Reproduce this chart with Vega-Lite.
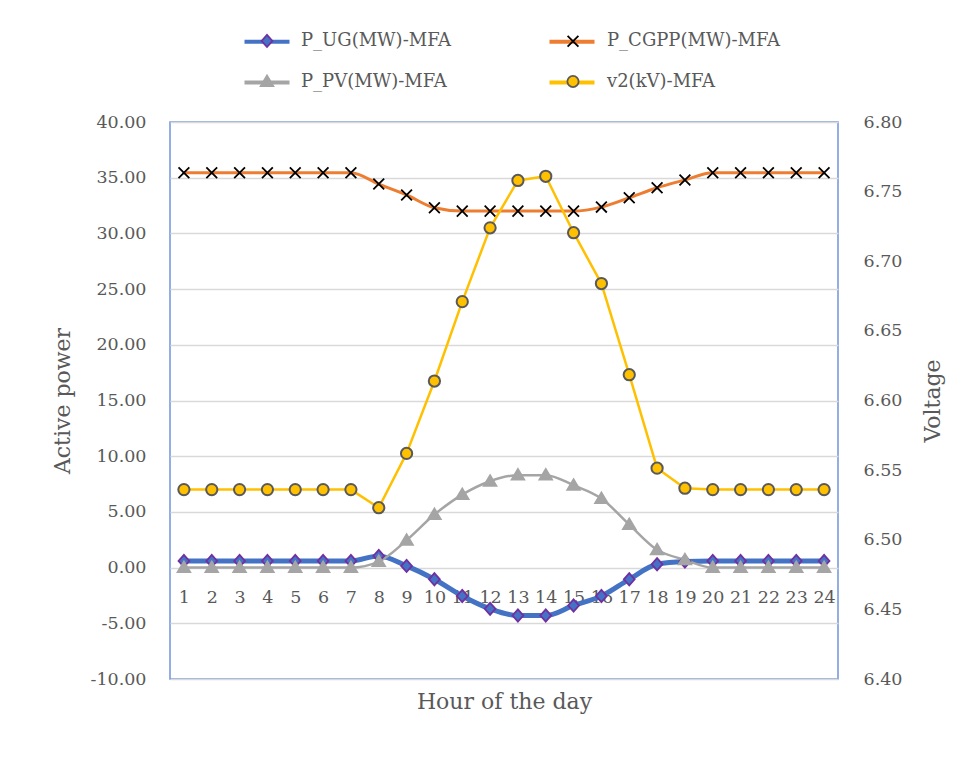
{
  "$schema": "https://vega.github.io/schema/vega-lite/v6.json",
  "width": 668,
  "height": 557,
  "autosize": {"type": "none"},
  "padding": {"left": 170, "top": 122, "right": 116, "bottom": 81},
  "background": "white",
  "config": {
    "view": {"stroke": "#7094DB", "strokeWidth": 1.5},
    "font": "DejaVu Serif",
    "axis": {
      "labelFont": "DejaVu Serif",
      "labelFontSize": 17.5,
      "labelColor": "#595959",
      "titleFont": "DejaVu Serif",
      "titleFontSize": 22,
      "titleFontWeight": "normal",
      "titleColor": "#595959",
      "domain": false,
      "ticks": false
    }
  },
  "data": {
    "values": [
      {"h": 1, "s": "P_UG(MW)-MFA", "m": "UG", "v": 0.6},
      {"h": 2, "s": "P_UG(MW)-MFA", "m": "UG", "v": 0.6},
      {"h": 3, "s": "P_UG(MW)-MFA", "m": "UG", "v": 0.6},
      {"h": 4, "s": "P_UG(MW)-MFA", "m": "UG", "v": 0.6},
      {"h": 5, "s": "P_UG(MW)-MFA", "m": "UG", "v": 0.6},
      {"h": 6, "s": "P_UG(MW)-MFA", "m": "UG", "v": 0.6},
      {"h": 7, "s": "P_UG(MW)-MFA", "m": "UG", "v": 0.6},
      {"h": 8, "s": "P_UG(MW)-MFA", "m": "UG", "v": 1.05},
      {"h": 9, "s": "P_UG(MW)-MFA", "m": "UG", "v": 0.15},
      {"h": 10, "s": "P_UG(MW)-MFA", "m": "UG", "v": -1.05},
      {"h": 11, "s": "P_UG(MW)-MFA", "m": "UG", "v": -2.55},
      {"h": 12, "s": "P_UG(MW)-MFA", "m": "UG", "v": -3.7},
      {"h": 13, "s": "P_UG(MW)-MFA", "m": "UG", "v": -4.3},
      {"h": 14, "s": "P_UG(MW)-MFA", "m": "UG", "v": -4.3},
      {"h": 15, "s": "P_UG(MW)-MFA", "m": "UG", "v": -3.4},
      {"h": 16, "s": "P_UG(MW)-MFA", "m": "UG", "v": -2.55},
      {"h": 17, "s": "P_UG(MW)-MFA", "m": "UG", "v": -1.05},
      {"h": 18, "s": "P_UG(MW)-MFA", "m": "UG", "v": 0.3},
      {"h": 19, "s": "P_UG(MW)-MFA", "m": "UG", "v": 0.55},
      {"h": 20, "s": "P_UG(MW)-MFA", "m": "UG", "v": 0.6},
      {"h": 21, "s": "P_UG(MW)-MFA", "m": "UG", "v": 0.6},
      {"h": 22, "s": "P_UG(MW)-MFA", "m": "UG", "v": 0.6},
      {"h": 23, "s": "P_UG(MW)-MFA", "m": "UG", "v": 0.6},
      {"h": 24, "s": "P_UG(MW)-MFA", "m": "UG", "v": 0.6},
      {"h": 1, "s": "P_CGPP(MW)-MFA", "m": "CGPP", "v": 35.45},
      {"h": 2, "s": "P_CGPP(MW)-MFA", "m": "CGPP", "v": 35.45},
      {"h": 3, "s": "P_CGPP(MW)-MFA", "m": "CGPP", "v": 35.45},
      {"h": 4, "s": "P_CGPP(MW)-MFA", "m": "CGPP", "v": 35.45},
      {"h": 5, "s": "P_CGPP(MW)-MFA", "m": "CGPP", "v": 35.45},
      {"h": 6, "s": "P_CGPP(MW)-MFA", "m": "CGPP", "v": 35.45},
      {"h": 7, "s": "P_CGPP(MW)-MFA", "m": "CGPP", "v": 35.45},
      {"h": 8, "s": "P_CGPP(MW)-MFA", "m": "CGPP", "v": 34.43},
      {"h": 9, "s": "P_CGPP(MW)-MFA", "m": "CGPP", "v": 33.45},
      {"h": 10, "s": "P_CGPP(MW)-MFA", "m": "CGPP", "v": 32.3},
      {"h": 11, "s": "P_CGPP(MW)-MFA", "m": "CGPP", "v": 32.0},
      {"h": 12, "s": "P_CGPP(MW)-MFA", "m": "CGPP", "v": 32.0},
      {"h": 13, "s": "P_CGPP(MW)-MFA", "m": "CGPP", "v": 32.0},
      {"h": 14, "s": "P_CGPP(MW)-MFA", "m": "CGPP", "v": 32.0},
      {"h": 15, "s": "P_CGPP(MW)-MFA", "m": "CGPP", "v": 32.0},
      {"h": 16, "s": "P_CGPP(MW)-MFA", "m": "CGPP", "v": 32.36},
      {"h": 17, "s": "P_CGPP(MW)-MFA", "m": "CGPP", "v": 33.2},
      {"h": 18, "s": "P_CGPP(MW)-MFA", "m": "CGPP", "v": 34.1},
      {"h": 19, "s": "P_CGPP(MW)-MFA", "m": "CGPP", "v": 34.8},
      {"h": 20, "s": "P_CGPP(MW)-MFA", "m": "CGPP", "v": 35.45},
      {"h": 21, "s": "P_CGPP(MW)-MFA", "m": "CGPP", "v": 35.45},
      {"h": 22, "s": "P_CGPP(MW)-MFA", "m": "CGPP", "v": 35.45},
      {"h": 23, "s": "P_CGPP(MW)-MFA", "m": "CGPP", "v": 35.45},
      {"h": 24, "s": "P_CGPP(MW)-MFA", "m": "CGPP", "v": 35.45},
      {"h": 1, "s": "P_PV(MW)-MFA", "m": "PV", "v": 0},
      {"h": 2, "s": "P_PV(MW)-MFA", "m": "PV", "v": 0},
      {"h": 3, "s": "P_PV(MW)-MFA", "m": "PV", "v": 0},
      {"h": 4, "s": "P_PV(MW)-MFA", "m": "PV", "v": 0},
      {"h": 5, "s": "P_PV(MW)-MFA", "m": "PV", "v": 0},
      {"h": 6, "s": "P_PV(MW)-MFA", "m": "PV", "v": 0},
      {"h": 7, "s": "P_PV(MW)-MFA", "m": "PV", "v": 0},
      {"h": 8, "s": "P_PV(MW)-MFA", "m": "PV", "v": 0.54},
      {"h": 9, "s": "P_PV(MW)-MFA", "m": "PV", "v": 2.45},
      {"h": 10, "s": "P_PV(MW)-MFA", "m": "PV", "v": 4.76},
      {"h": 11, "s": "P_PV(MW)-MFA", "m": "PV", "v": 6.55},
      {"h": 12, "s": "P_PV(MW)-MFA", "m": "PV", "v": 7.75},
      {"h": 13, "s": "P_PV(MW)-MFA", "m": "PV", "v": 8.3},
      {"h": 14, "s": "P_PV(MW)-MFA", "m": "PV", "v": 8.3},
      {"h": 15, "s": "P_PV(MW)-MFA", "m": "PV", "v": 7.39},
      {"h": 16, "s": "P_PV(MW)-MFA", "m": "PV", "v": 6.2},
      {"h": 17, "s": "P_PV(MW)-MFA", "m": "PV", "v": 3.86},
      {"h": 18, "s": "P_PV(MW)-MFA", "m": "PV", "v": 1.6},
      {"h": 19, "s": "P_PV(MW)-MFA", "m": "PV", "v": 0.7},
      {"h": 20, "s": "P_PV(MW)-MFA", "m": "PV", "v": 0},
      {"h": 21, "s": "P_PV(MW)-MFA", "m": "PV", "v": 0},
      {"h": 22, "s": "P_PV(MW)-MFA", "m": "PV", "v": 0},
      {"h": 23, "s": "P_PV(MW)-MFA", "m": "PV", "v": 0},
      {"h": 24, "s": "P_PV(MW)-MFA", "m": "PV", "v": 0},
      {"h": 1, "s": "v2(kV)-MFA", "m": "V2", "v": 6.536},
      {"h": 2, "s": "v2(kV)-MFA", "m": "V2", "v": 6.536},
      {"h": 3, "s": "v2(kV)-MFA", "m": "V2", "v": 6.536},
      {"h": 4, "s": "v2(kV)-MFA", "m": "V2", "v": 6.536},
      {"h": 5, "s": "v2(kV)-MFA", "m": "V2", "v": 6.536},
      {"h": 6, "s": "v2(kV)-MFA", "m": "V2", "v": 6.536},
      {"h": 7, "s": "v2(kV)-MFA", "m": "V2", "v": 6.536},
      {"h": 8, "s": "v2(kV)-MFA", "m": "V2", "v": 6.523},
      {"h": 9, "s": "v2(kV)-MFA", "m": "V2", "v": 6.562},
      {"h": 10, "s": "v2(kV)-MFA", "m": "V2", "v": 6.614},
      {"h": 11, "s": "v2(kV)-MFA", "m": "V2", "v": 6.671},
      {"h": 12, "s": "v2(kV)-MFA", "m": "V2", "v": 6.724},
      {"h": 13, "s": "v2(kV)-MFA", "m": "V2", "v": 6.758},
      {"h": 14, "s": "v2(kV)-MFA", "m": "V2", "v": 6.761},
      {"h": 15, "s": "v2(kV)-MFA", "m": "V2", "v": 6.7205},
      {"h": 16, "s": "v2(kV)-MFA", "m": "V2", "v": 6.684},
      {"h": 17, "s": "v2(kV)-MFA", "m": "V2", "v": 6.6185},
      {"h": 18, "s": "v2(kV)-MFA", "m": "V2", "v": 6.5514},
      {"h": 19, "s": "v2(kV)-MFA", "m": "V2", "v": 6.537},
      {"h": 20, "s": "v2(kV)-MFA", "m": "V2", "v": 6.536},
      {"h": 21, "s": "v2(kV)-MFA", "m": "V2", "v": 6.536},
      {"h": 22, "s": "v2(kV)-MFA", "m": "V2", "v": 6.536},
      {"h": 23, "s": "v2(kV)-MFA", "m": "V2", "v": 6.536},
      {"h": 24, "s": "v2(kV)-MFA", "m": "V2", "v": 6.536}
    ]
  },
  "encoding": {
    "x": {
      "field": "h",
      "type": "ordinal",
      "scale": {"type": "point", "padding": 0.5},
      "axis": {
        "title": "Hour of the day",
        "orient": "bottom",
        "offset": -111.4,
        "labelAngle": 0,
        "labelOverlap": false,
        "labelPadding": 21,
        "grid": false,
        "titleY": 134,
        "titleBaseline": "middle"
      }
    }
  },
  "layer": [
    {
      "transform": [{"filter": "datum.s !== 'v2(kV)-MFA'"}],
      "encoding": {
        "y": {
          "field": "v",
          "type": "quantitative",
          "scale": {"domain": [-10, 40], "nice": false, "zero": false},
          "axis": {
            "title": "Active power",
            "values": [-10, -5, 0, 5, 10, 15, 20, 25, 30, 35, 40],
            "labelExpr": "replace(format(datum.value, '.2f'), '−', '-')",
            "grid": true,
            "gridColor": "#D9D9D9",
            "gridWidth": 1.3,
            "labelPadding": 24,
            "titleAngle": -90,
            "titleX": -108,
            "titleY": 278.5,
            "titleBaseline": "middle"
          }
        }
      },
      "layer": [
        {
          "mark": {"type": "line", "interpolate": "monotone", "strokeCap": "round", "strokeJoin": "round"},
          "encoding": {
            "color": {
              "field": "s",
              "type": "nominal",
              "scale": {
                "domain": ["P_UG(MW)-MFA", "P_CGPP(MW)-MFA", "P_PV(MW)-MFA", "v2(kV)-MFA"],
                "range": ["#4472C4", "#ED7D31", "#A5A5A5", "#FFC000"]
              },
              "legend": {
                "orient": "none",
                "legendX": 72.5,
                "legendY": -105,
                "direction": "horizontal",
                "columns": 2,
                "columnPadding": 241,
                "rowPadding": 7,
                "title": null,
                "padding": 0,
                "symbolType": "stroke",
                "symbolSize": 2025,
                "symbolStrokeWidth": 4,
                "labelOffset": 8.5,
                "labelFont": "DejaVu Serif",
                "labelFontSize": 18,
                "labelExpr": "''"
              }
            },
            "strokeWidth": {
              "field": "s",
              "type": "nominal",
              "scale": {
                "type": "ordinal",
                "domain": ["P_UG(MW)-MFA", "P_CGPP(MW)-MFA", "P_PV(MW)-MFA", "v2(kV)-MFA"],
                "range": [5, 3, 2.5, 2.5]
              },
              "legend": null
            }
          }
        },
        {
          "mark": {"type": "point", "filled": true, "size": 2025, "strokeWidth": 1.8, "opacity": 1},
          "encoding": {
            "shape": {
              "field": "m",
              "type": "nominal",
              "scale": {
                "domain": ["UG", "CGPP", "PV", "V2"],
                "range": [
                  "M0,-0.27L0.24,0L0,0.27L-0.24,0Z",
                  "M-0.24,-0.24L0.24,0.24M0.24,-0.24L-0.24,0.24",
                  "M0,-0.27L0.28,0.2L-0.28,0.2Z",
                  "M0.25,0A0.25,0.25,0,1,1,-0.25,0A0.25,0.25,0,1,1,0.25,0Z"
                ]
              },
              "legend": {
                "orient": "none",
                "legendX": 72.5,
                "legendY": -105,
                "direction": "horizontal",
                "columns": 2,
                "columnPadding": 97,
                "rowPadding": 7,
                "title": null,
                "padding": 0,
                "symbolSize": 2025,
                "symbolStrokeWidth": 1.8,
                "symbolOffset": 1,
                "labelOffset": 10.5,
                "labelLimit": 400,
                "labelFont": "DejaVu Serif",
                "labelFontSize": 18,
                "labelColor": "#595959",
                "labelExpr": "datum.label == 'UG' ? 'P_UG(MW)-MFA' : datum.label == 'CGPP' ? 'P_CGPP(MW)-MFA' : datum.label == 'PV' ? 'P_PV(MW)-MFA' : 'v2(kV)-MFA'"
              }
            },
            "fill": {
              "field": "m",
              "type": "nominal",
              "scale": {
                "domain": ["UG", "CGPP", "PV", "V2"],
                "range": ["#4472C4", "transparent", "#A5A5A5", "#FFC000"]
              }
            },
            "stroke": {
              "field": "m",
              "type": "nominal",
              "scale": {
                "domain": ["UG", "CGPP", "PV", "V2"],
                "range": ["#7030A0", "#000000", "#A5A5A5", "#595959"]
              }
            }
          }
        }
      ]
    },
    {
      "transform": [{"filter": "datum.s === 'v2(kV)-MFA'"}],
      "encoding": {
        "y": {
          "field": "v",
          "type": "quantitative",
          "scale": {"domain": [6.4, 6.8], "nice": false, "zero": false},
          "axis": {
            "orient": "right",
            "title": "Voltage",
            "values": [6.4, 6.45, 6.5, 6.55, 6.6, 6.65, 6.7, 6.75, 6.8],
            "format": ".2f",
            "grid": false,
            "labelPadding": 25,
            "titleAngle": -90,
            "titleX": 94,
            "titleY": 278.5,
            "titleBaseline": "middle"
          }
        }
      },
      "layer": [
        {
          "mark": {"type": "line", "strokeCap": "round", "strokeJoin": "round"},
          "encoding": {
            "color": {"field": "s", "type": "nominal"},
            "strokeWidth": {"field": "s", "type": "nominal", "legend": null}
          }
        },
        {
          "mark": {"type": "point", "filled": true, "size": 2025, "strokeWidth": 2, "opacity": 1},
          "encoding": {
            "shape": {"field": "m", "type": "nominal"},
            "fill": {"field": "m", "type": "nominal"},
            "stroke": {"field": "m", "type": "nominal"}
          }
        }
      ]
    }
  ],
  "resolve": {"scale": {"y": "independent"}}
}
